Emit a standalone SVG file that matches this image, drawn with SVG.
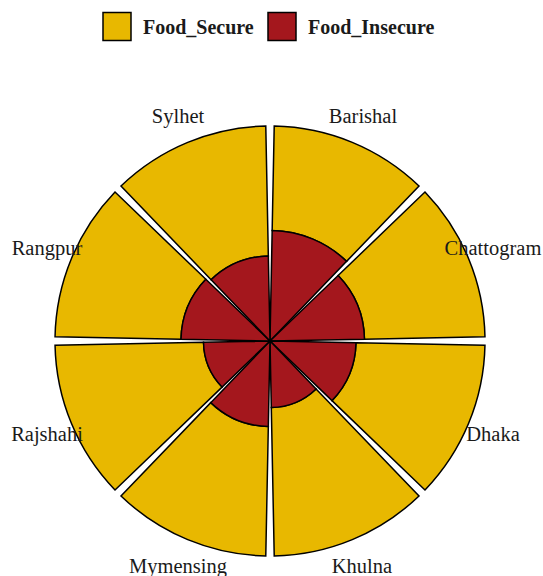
<svg xmlns="http://www.w3.org/2000/svg" width="543" height="576" viewBox="0 0 543 576">
<style>
.sec{fill:#E8B800;stroke:#000;stroke-width:1.5;stroke-linejoin:miter}
.ins{fill:#A4171D;stroke:#000;stroke-width:1.5;stroke-linejoin:miter}
.lbl{font-family:"Liberation Serif","Times New Roman",serif;font-size:20.5px;fill:#1a1a1a;text-anchor:middle}
.leg{font-family:"Liberation Serif","Times New Roman",serif;font-size:20px;font-weight:bold;fill:#1a1a1a}
</style>
<rect width="543" height="576" fill="#fff"/>
<g id="legend">
<rect x="103" y="12.5" width="28" height="28" class="sec"/>
<text x="143" y="33.5" class="leg">Food_Secure</text>
<rect x="268" y="12.5" width="28" height="28" class="ins"/>
<text x="308" y="33.5" class="leg">Food_Insecure</text>
</g>
<g id="Barishal">
<path class="sec" d="M272.17,230.52 L274.22,126.04 A215,215 0 0 1 419.01,186.02 L346.59,261.35 A110.5,110.5 0 0 0 272.17,230.52 Z"/>
<path class="ins" d="M270,341 L272.17,230.52 A110.5,110.5 0 0 1 346.59,261.35 Z"/>
</g>
<g id="Chattogram">
<path class="sec" d="M338.12,275.50 L424.98,191.99 A215,215 0 0 1 484.96,336.78 L364.48,339.14 A94.5,94.5 0 0 0 338.12,275.50 Z"/>
<path class="ins" d="M270,341 L338.12,275.50 A94.5,94.5 0 0 1 364.48,339.14 Z"/>
</g>
<g id="Dhaka">
<path class="sec" d="M355.98,342.69 L484.96,345.22 A215,215 0 0 1 424.98,490.01 L331.99,400.61 A86,86 0 0 0 355.98,342.69 Z"/>
<path class="ins" d="M270,341 L355.98,342.69 A86,86 0 0 1 331.99,400.61 Z"/>
</g>
<g id="Khulna">
<path class="sec" d="M316.09,388.94 L419.01,495.98 A215,215 0 0 1 274.22,555.96 L271.31,407.49 A66.5,66.5 0 0 0 316.09,388.94 Z"/>
<path class="ins" d="M270,341 L316.09,388.94 A66.5,66.5 0 0 1 271.31,407.49 Z"/>
</g>
<g id="Mymensing">
<path class="sec" d="M268.32,426.48 L265.78,555.96 A215,215 0 0 1 120.99,495.98 L210.74,402.63 A85.5,85.5 0 0 0 268.32,426.48 Z"/>
<path class="ins" d="M270,341 L268.32,426.48 A85.5,85.5 0 0 1 210.74,402.63 Z"/>
</g>
<g id="Rajshahi">
<path class="sec" d="M222.06,387.09 L115.02,490.01 A215,215 0 0 1 55.04,345.22 L203.51,342.31 A66.5,66.5 0 0 0 222.06,387.09 Z"/>
<path class="ins" d="M270,341 L222.06,387.09 A66.5,66.5 0 0 1 203.51,342.31 Z"/>
</g>
<g id="Rangpur">
<path class="sec" d="M181.02,339.25 L55.04,336.78 A215,215 0 0 1 115.02,191.99 L205.84,279.32 A89,89 0 0 0 181.02,339.25 Z"/>
<path class="ins" d="M270,341 L181.02,339.25 A89,89 0 0 1 205.84,279.32 Z"/>
</g>
<g id="Sylhet">
<path class="sec" d="M211.09,279.73 L120.99,186.02 A215,215 0 0 1 265.78,126.04 L268.33,256.02 A85,85 0 0 0 211.09,279.73 Z"/>
<path class="ins" d="M270,341 L211.09,279.73 A85,85 0 0 1 268.33,256.02 Z"/>
</g>
<g id="labels">
<text x="363" y="123" class="lbl">Barishal</text>
<text x="493" y="255" class="lbl">Chattogram</text>
<text x="493" y="441" class="lbl">Dhaka</text>
<text x="362" y="573" class="lbl">Khulna</text>
<text x="178" y="573" class="lbl">Mymensing</text>
<text x="47" y="441" class="lbl">Rajshahi</text>
<text x="47" y="255" class="lbl">Rangpur</text>
<text x="178" y="123" class="lbl">Sylhet</text>
</g>
</svg>
